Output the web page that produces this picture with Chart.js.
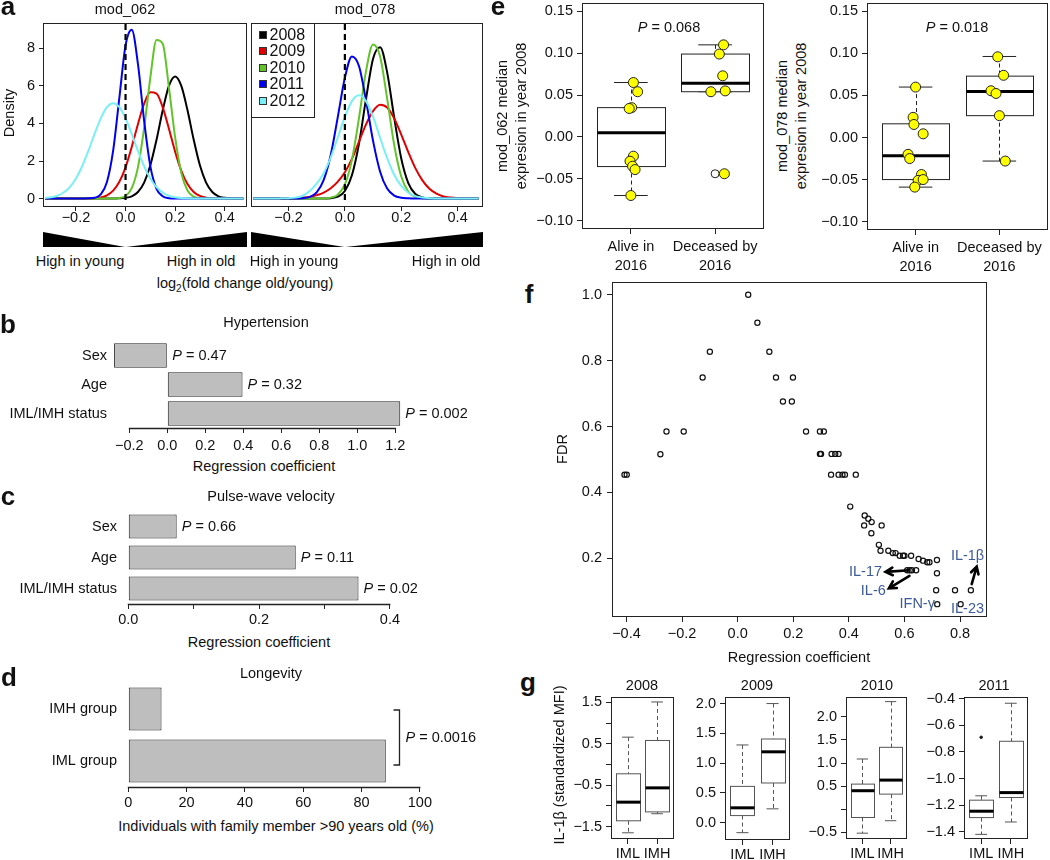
<!DOCTYPE html>
<html>
<head>
<meta charset="utf-8">
<script src="https://cdn.jsdelivr.net/npm/chart.js@4.4.1/dist/chart.umd.min.js"></script>
<style>
  body { margin: 0; background: #fff; }
  #fig { position: relative; width: 1050px; height: 860px; overflow: hidden;
         font-family: "Liberation Sans", Arial, Helvetica, sans-serif; color: #111; }
  #fig canvas { position: absolute; }
  .t { position: absolute; white-space: nowrap; line-height: 1; }
  .wedge { position: absolute; background: #000; }
</style>
</head>
<body>
<div id="fig"></div>
<script>
// ---------- panel a: density of log2 fold change (old / young) ----------
const densX = [-0.325, -0.3, -0.275, -0.25, -0.225, -0.2, -0.175, -0.15, -0.125, -0.1, -0.075, -0.05, -0.025,
  0, 0.025, 0.05, 0.075, 0.1, 0.125, 0.15, 0.175, 0.2, 0.225, 0.25, 0.275, 0.3, 0.325, 0.35, 0.375, 0.4, 0.425, 0.45, 0.475];
const years = ['2008', '2009', '2010', '2011', '2012'];
const yearColors = ['#000000', '#e00000', '#62c42a', '#0000ee', '#78f0f5'];

const mod062_2008 = [0,0,0,0,0,0,0,0,0,0,0,0,0.01,0.04,0.12,0.35,0.85,1.77,3.13,4.70,6.00,6.50,6.00,4.70,3.13,1.77,0.85,0.35,0.12,0.04,0.01,0,0];
const mod062_2009 = [0,0,0,0,0,0,0,0,0.02,0.06,0.17,0.42,0.89,1.66,2.75,3.96,5.05,5.66,5.59,4.86,3.72,2.50,1.48,0.77,0.35,0.14,0.05,0.01,0,0,0,0,0];
const mod062_2010 = [0,0,0,0,0,0,0,0,0,0,0,0,0.03,0.14,0.55,1.66,3.76,6.44,8.45,8.25,5.92,3.27,1.36,0.43,0.10,0.02,0,0,0,0,0,0,0];
const mod062_2011 = [0,0,0,0,0,0,0,0.01,0.04,0.22,0.88,2.55,5.36,8.16,8.99,7.17,4.14,1.73,0.52,0.12,0.02,0,0,0,0,0,0,0,0,0,0,0,0];
const mod062_2012 = [0.03,0.07,0.15,0.32,0.61,1.07,1.72,2.54,3.44,4.27,4.87,5.08,4.87,4.27,3.44,2.54,1.72,1.07,0.61,0.32,0.15,0.07,0.03,0.01,0,0,0,0,0,0,0,0,0];

const mod078_2008 = [0,0,0,0,0,0,0,0,0,0,0,0.02,0.10,0.40,1.24,2.92,5.31,7.45,8.06,6.72,4.31,2.13,0.82,0.24,0.06,0.01,0,0,0,0,0,0,0];
const mod078_2009 = [0,0,0,0,0,0.01,0.02,0.05,0.08,0.18,0.32,0.55,0.90,1.40,2.11,3.03,3.95,4.66,5.00,4.85,4.27,3.41,2.47,1.62,0.97,0.52,0.26,0.11,0.05,0.02,0.01,0,0];
const mod078_2010 = [0,0,0,0,0,0,0,0,0,0,0,0.05,0.21,0.75,2.06,4.28,6.79,8.21,7.57,5.32,2.85,1.17,0.36,0.09,0.02,0,0,0,0,0,0,0,0];
const mod078_2011 = [0,0,0,0,0,0,0,0.02,0.09,0.33,0.99,2.33,4.35,6.43,7.57,7.06,5.23,3.07,1.43,0.53,0.16,0.04,0.01,0,0,0,0,0,0,0,0,0,0];
const mod078_2012 = [0,0,0,0,0.01,0.02,0.05,0.15,0.40,0.80,1.35,2.20,3.25,4.35,5.19,5.50,5.19,4.35,3.24,2.15,1.27,0.67,0.31,0.13,0.05,0.02,0,0,0,0,0,0,0];

const densXTicks = [-0.2, 0, 0.2, 0.4];
const densYTicks = [0, 2, 4, 6, 8];

// ---------- panels b, c, d: bar charts ----------
const hypCats = ['Sex', 'Age', 'IML/IMH status'];
const hypCoef = [-0.28, 0.396, 1.226];
const hypP = ['0.47', '0.32', '0.002'];
const hypTicks = [-0.2, 0, 0.2, 0.4, 0.6, 0.8, 1.0, 1.2];

const pwvCats = ['Sex', 'Age', 'IML/IMH status'];
const pwvCoef = [0.074, 0.256, 0.352];
const pwvP = ['0.66', '0.11', '0.02'];
const pwvTicks = [0, 0.1, 0.2, 0.3, 0.4];
const pwvLabeled = [0, 0.2, 0.4];

const longCats = ['IMH group', 'IML group'];
const longPct = [11.4, 88.3];
const longP = '0.0016';
const longTicks = [0, 20, 40, 60, 80, 100];

// ---------- panel e: module expression in 2008 by survival ----------
const eCats = [['Alive in', '2016'], ['Deceased by', '2016']];
const eTicks = [-0.1, -0.05, 0, 0.05, 0.1, 0.15];
const e062AliveX = [1.03, 1.08, 1.01, 0.98, 1.03, 0.99, 1.02, 1.05, 1.00];
const e062AliveY = [0.065, 0.054, 0.035, 0.034, -0.023, -0.029, -0.035, -0.039, -0.070];
const e062DeadX = [2.10, 2.05, 2.09, 1.95, 2.12, 2.11];
const e062DeadY = [0.110, 0.099, 0.073, 0.054, 0.055, -0.044];
const e062AliveBox = [-0.070, -0.0354, 0.005, 0.035, 0.065];
const e062DeadBox = [0.054, 0.054, 0.064, 0.099, 0.110];
const e062OutX = [2];
const e062OutY = [-0.044];

const e078AliveX = [1.00, 0.97, 0.98, 1.09, 0.91, 0.93, 1.07, 1.03, 1.09, 0.99];
const e078AliveY = [0.060, 0.024, 0.0155, 0.0044, -0.020, -0.025, -0.044, -0.051, -0.050, -0.059];
const e078DeadX = [1.98, 2.05, 1.90, 1.96, 2.00, 2.07];
const e078DeadY = [0.096, 0.074, 0.0556, 0.0524, 0.026, -0.028];
const e078AliveBox = [-0.059, -0.050, -0.0218, 0.0163, 0.060];
const e078DeadBox = [-0.028, 0.026, 0.0548, 0.073, 0.0964];

// ---------- panel f: regression coefficient vs FDR ----------
const fX = [-0.407,-0.399,-0.278,-0.256,-0.194,-0.126,-0.100,0.038,0.071,0.114,0.138,0.199,0.163,0.195,0.246,0.296,0.310,
  0.296,0.300,0.338,0.351,0.363,0.336,0.363,0.377,0.386,0.425,0.405,0.457,0.470,0.482,0.455,0.518,0.481,0.508,0.514,
  0.542,0.558,0.568,0.583,0.595,0.600,0.624,0.651,0.667,0.682,0.690,0.717,0.717,0.610,0.619,0.627,0.642,0.714,0.782,0.839,0.718,0.802];
const fY = [0.454,0.454,0.516,0.585,0.585,0.749,0.827,1.000,0.915,0.827,0.749,0.749,0.676,0.676,0.585,0.585,0.585,
  0.517,0.517,0.517,0.517,0.517,0.454,0.454,0.454,0.454,0.454,0.357,0.330,0.320,0.310,0.300,0.300,0.276,0.241,0.223,
  0.223,0.216,0.216,0.208,0.208,0.208,0.208,0.198,0.193,0.188,0.188,0.195,0.155,0.164,0.164,0.164,0.164,0.103,0.103,0.103,0.061,0.061];
const fXTicks = [-0.4, -0.2, 0, 0.2, 0.4, 0.6, 0.8];
const fYTicks = [0.2, 0.4, 0.6, 0.8, 1.0];
const fNotes = ['IL-1\u03b2', 'IL-17', 'IL-6', 'IFN-\u03b3', 'IL-23'];
const fNoteX = [0.827, 0.460, 0.488, 0.646, 0.827];
const fNoteY = [0.207, 0.159, 0.102, 0.061, 0.047];
const fArrowX0 = [0.618, 0.618, 0.842];
const fArrowY0 = [0.164, 0.147, 0.122];
const fArrowX1 = [0.532, 0.544, 0.860];
const fArrowY1 = [0.159, 0.109, 0.175];

// ---------- panel g: IL-1b by group and year ----------
const gCats = ['IML', 'IMH'];
const g2008IML = [-1.65, -1.36, -0.91, -0.225, 0.66];
const g2008IMH = [-1.19, -1.145, -0.565, 0.58, 1.51];
const g2009IML = [-0.167, 0.12, 0.25, 0.61, 1.305];
const g2009IMH = [0.233, 0.667, 1.19, 1.405, 2.0];
const g2010IML = [-0.52, -0.18, 0.40, 0.543, 1.087];
const g2010IMH = [-0.25, 0.326, 0.63, 1.34, 2.33];
const g2011IML = [-1.42, -1.294, -1.246, -1.163, -1.13];
const g2011IMH = [-1.327, -1.143, -1.106, -0.72, -0.434];
const g2011OutX = [1];
const g2011OutY = [-0.69];

// ---------- helpers ----------
const FONT = '"Liberation Sans", Arial, Helvetica, sans-serif';
const FS = 14.5;
Chart.defaults.font.family = FONT;
Chart.defaults.font.size = FS;
Chart.defaults.color = '#111';
Chart.defaults.animation = false;
Chart.defaults.responsive = false;
Chart.defaults.plugins.legend.display = false;
Chart.defaults.plugins.tooltip.enabled = false;

const fig = document.getElementById('fig');
const fmt = (v, d) => (v < -1e-9 ? '\u2212' : '') + Math.abs(v).toFixed(d);

function T(html, x, y, o) {
  o = o || {};
  const d = document.createElement('div');
  d.className = 't';
  d.innerHTML = html;
  const tx = o.left ? '0' : '-50%';
  d.style.left = x + 'px';
  d.style.top = y + 'px';
  d.style.fontSize = (o.size || FS) + 'px';
  if (o.bold) d.style.fontWeight = 'bold';
  if (o.lh) { d.style.lineHeight = o.lh + 'px'; d.style.textAlign = 'center'; }
  d.style.transform = 'translate(' + tx + ',-50%)' + (o.rot ? ' rotate(-90deg)' : '');
  fig.appendChild(d);
}

function linAxis(min, max, ticks, cb, pad, tl) {
  return {
    type: 'linear', min: min, max: max,
    afterBuildTicks: ax => { ax.ticks = ticks.map(v => ({ value: v })); },
    ticks: { callback: cb, padding: pad, autoSkip: false, maxRotation: 0, font: { size: FS, lineHeight: 1 } },
    grid: { display: true, drawOnChartArea: false, drawTicks: true, tickLength: tl || 5, color: '#222', lineWidth: 1 },
    border: { display: false }
  };
}
function blankAxis(min, max) {
  return { type: 'linear', min: min, max: max, ticks: { display: false },
           grid: { display: false, drawTicks: false }, border: { display: false } };
}
function catAxis() {
  return { type: 'category', ticks: { padding: 5, font: { size: FS, lineHeight: 1 } },
           grid: { display: false, drawTicks: false }, border: { display: false } };
}

function mk(box, pad, cfg) {
  const w = box.r - box.l + pad.l + pad.r, h = box.b - box.t + pad.t + pad.b;
  const c = document.createElement('canvas');
  c.width = w; c.height = h;
  c.style.left = (box.l - pad.l) + 'px';
  c.style.top = (box.t - pad.t) + 'px';
  c.style.width = w + 'px';
  c.style.height = h + 'px';
  fig.appendChild(c);
  const o = cfg.options;
  o.layout = { padding: { top: pad.t, right: pad.r, left: 0, bottom: 0 }, autoPadding: false };
  o.scales.x.position = 'bottom';
  o.scales.y.position = 'left';
  o.scales.x.afterFit = s => { s.height = pad.b; };
  o.scales.y.afterFit = s => { s.width = pad.l; };
  return new Chart(c, cfg);
}

function drawP(ctx, val, x, y) {
  ctx.save();
  ctx.textBaseline = 'middle';
  ctx.textAlign = 'left';
  ctx.fillStyle = '#111';
  ctx.font = 'italic ' + FS + 'px ' + FONT;
  ctx.fillText('P', x, y);
  const w = ctx.measureText('P').width;
  ctx.font = FS + 'px ' + FONT;
  ctx.fillText(' = ' + val, x + w, y);
  ctx.restore();
}

// ---------- plugins ----------
const frame = {
  id: 'frame',
  afterDraw(chart, args, opts) {
    if (!opts.on) return;
    const a = chart.chartArea, ctx = chart.ctx;
    ctx.save();
    ctx.strokeStyle = '#222';
    ctx.lineWidth = 1;
    ctx.strokeRect(Math.round(a.left) + 0.5, Math.round(a.top) + 0.5,
                   Math.round(a.right - a.left) - 1, Math.round(a.bottom - a.top) - 1);
    ctx.restore();
  }
};

const rAxis = {
  id: 'rAxis',
  afterDraw(chart, args, opts) {
    if (!opts.on) return;
    const s = chart.scales.x, ctx = chart.ctx, t = s.ticks;
    const x0 = s.getPixelForValue(t[0].value), x1 = s.getPixelForValue(t[t.length - 1].value);
    ctx.save();
    ctx.strokeStyle = '#222';
    ctx.lineWidth = 1.3;
    ctx.beginPath();
    ctx.moveTo(x0 - 0.5, Math.round(s.top) + 0.5);
    ctx.lineTo(x1 + 0.5, Math.round(s.top) + 0.5);
    ctx.stroke();
    ctx.restore();
  }
};

const pLabels = {
  id: 'pLabels',
  afterDatasetsDraw(chart, args, opts) {
    if (!opts.vals) return;
    const meta = chart.getDatasetMeta(0), xs = chart.scales.x;
    const data = chart.data.datasets[0].data;
    meta.data.forEach((bar, i) => {
      drawP(chart.ctx, opts.vals[i], xs.getPixelForValue(Math.max(data[i], 0)) + 5, bar.y);
    });
  }
};

const bracket = {
  id: 'bracket',
  afterDatasetsDraw(chart, args, opts) {
    if (!opts.text) return;
    const ctx = chart.ctx, meta = chart.getDatasetMeta(0), xs = chart.scales.x;
    const data = chart.data.datasets[0].data;
    const x = Math.round(xs.getPixelForValue(Math.max.apply(null, data)) + 13) + 0.5;
    const y0 = meta.data[0].y + 1, y1 = meta.data[1].y + 4;
    ctx.save();
    ctx.strokeStyle = '#222';
    ctx.lineWidth = 1.3;
    ctx.beginPath();
    ctx.moveTo(x - 6, y0); ctx.lineTo(x, y0); ctx.lineTo(x, y1); ctx.lineTo(x - 6, y1);
    ctx.stroke();
    ctx.restore();
    drawP(ctx, opts.text, x + 6, (y0 + y1) / 2);
  }
};

const boxPlot = {
  id: 'boxPlot',
  beforeDatasetsDraw(chart, args, opts) {
    if (!opts.list) return;
    const ctx = chart.ctx, xs = chart.scales.x, ys = chart.scales.y;
    const X = v => xs.getPixelForValue(v), Y = v => ys.getPixelForValue(v);
    const seg = (x0, y0, x1, y1) => { ctx.beginPath(); ctx.moveTo(x0, y0); ctx.lineTo(x1, y1); ctx.stroke(); };
    ctx.save();
    opts.list.forEach(b => {
      const lo = b.s[0], q1 = b.s[1], md = b.s[2], q3 = b.s[3], hi = b.s[4];
      const xc = Math.round(X(b.x)) + 0.5;
      const x0 = Math.round(X(b.x - 0.4)) + 0.5, x1 = Math.round(X(b.x + 0.4)) + 0.5;
      ctx.strokeStyle = opts.color;
      ctx.lineWidth = 1;
      ctx.setLineDash([4, 3]);
      seg(xc, Y(hi), xc, Y(q3));
      seg(xc, Y(q1), xc, Y(lo));
      ctx.setLineDash([]);
      seg(X(b.x - 0.2), Y(hi), X(b.x + 0.2), Y(hi));
      seg(X(b.x - 0.2), Y(lo), X(b.x + 0.2), Y(lo));
      ctx.fillStyle = '#fff';
      ctx.fillRect(x0, Y(q3), x1 - x0, Y(q1) - Y(q3));
      ctx.strokeRect(x0, Y(q3), x1 - x0, Y(q1) - Y(q3));
      ctx.strokeStyle = '#000';
      ctx.lineWidth = 3;
      seg(x0, Y(md), x1, Y(md));
    });
    ctx.restore();
  }
};

const yearLegend = {
  id: 'yearLegend',
  afterDatasetsDraw(chart, args, opts) {
    if (!opts.on) return;
    const ctx = chart.ctx, a = chart.chartArea;
    const L = Math.round(a.left) + 0.5, Tp = Math.round(a.top) + 0.5;
    ctx.save();
    ctx.fillStyle = '#fff';
    ctx.fillRect(L, Tp, 63, 94);
    ctx.strokeStyle = '#222';
    ctx.lineWidth = 1;
    ctx.strokeRect(L, Tp, 63, 94);
    ctx.font = '16px ' + FONT;
    ctx.textBaseline = 'middle';
    years.forEach((y, i) => {
      const cy = Math.round(Tp + 11 + i * 16.5);
      ctx.fillStyle = yearColors[i];
      ctx.fillRect(L + 8, cy - 3.5, 7, 7);
      ctx.strokeStyle = '#333';
      ctx.strokeRect(L + 8, cy - 3.5, 7, 7);
      ctx.fillStyle = '#111';
      ctx.fillText(y, L + 18, cy + 0.5);
    });
    ctx.restore();
  }
};

const notes = {
  id: 'notes',
  afterDatasetsDraw(chart, args, opts) {
    if (!opts.on) return;
    const ctx = chart.ctx, xs = chart.scales.x, ys = chart.scales.y;
    ctx.save();
    ctx.font = FS + 'px ' + FONT;
    ctx.fillStyle = '#3d5a9a';
    ctx.textAlign = 'center';
    ctx.textBaseline = 'middle';
    fNotes.forEach((n, i) => ctx.fillText(n, xs.getPixelForValue(fNoteX[i]), ys.getPixelForValue(fNoteY[i])));
    ctx.strokeStyle = '#000';
    ctx.lineWidth = 2.6;
    ctx.lineCap = 'round';
    fArrowX0.forEach((v, i) => {
      const x0 = xs.getPixelForValue(v), y0 = ys.getPixelForValue(fArrowY0[i]);
      const x1 = xs.getPixelForValue(fArrowX1[i]), y1 = ys.getPixelForValue(fArrowY1[i]);
      const ang = Math.atan2(y1 - y0, x1 - x0), h = 8;
      ctx.beginPath();
      ctx.moveTo(x0, y0); ctx.lineTo(x1, y1);
      ctx.moveTo(x1 - h * Math.cos(ang - 0.5), y1 - h * Math.sin(ang - 0.5));
      ctx.lineTo(x1, y1);
      ctx.lineTo(x1 - h * Math.cos(ang + 0.5), y1 - h * Math.sin(ang + 0.5));
      ctx.stroke();
    });
    ctx.restore();
  }
};

Chart.register(frame, rAxis, pLabels, bracket, boxPlot, yearLegend, notes);

// ---------- panel a ----------
function densityChart(box, pad, curves, showY, legend) {
  const ds = curves.map((ys, i) => ({
    data: densX.map((x, k) => ({ x: x, y: ys[k] })),
    borderColor: yearColors[i], borderWidth: 2, pointRadius: 0,
    cubicInterpolationMode: 'monotone', fill: false, order: 5 - i
  }));
  ds.push({ data: [{ x: 0, y: -0.08 }, { x: 0, y: 9.4 }], borderColor: '#000', borderWidth: 2.2,
            borderDash: [6, 4], pointRadius: 0, order: 0 });
  return mk(box, pad, {
    type: 'line',
    data: { datasets: ds },
    options: {
      scales: {
        x: linAxis(-0.333, 0.49, densXTicks, v => fmt(v, 1), 0, 4),
        y: showY ? linAxis(-0.45, 9.35, densYTicks, v => fmt(v, 0), 4, 4) : blankAxis(-0.45, 9.35)
      },
      plugins: { frame: { on: true }, yearLegend: { on: legend } }
    }
  });
}
function wedges(chart) {
  const a = chart.chartArea, x0 = chart.scales.x.getPixelForValue(0);
  const L = parseFloat(chart.canvas.style.left), Tp = parseFloat(chart.canvas.style.top);
  const top = Tp + a.bottom + 25;
  const w1 = document.createElement('div');
  w1.className = 'wedge';
  w1.style.cssText += 'left:' + (L + a.left) + 'px;top:' + top + 'px;width:' + (x0 - a.left - 0.5) +
    'px;height:15px;clip-path:polygon(0 0,100% 100%,0 100%)';
  const w2 = document.createElement('div');
  w2.className = 'wedge';
  w2.style.cssText += 'left:' + (L + x0 + 0.5) + 'px;top:' + top + 'px;width:' + (a.right - x0 - 0.5) +
    'px;height:15px;clip-path:polygon(0 100%,100% 0,100% 100%)';
  fig.appendChild(w1);
  fig.appendChild(w2);
}
const a1 = densityChart({ l: 43, t: 23, r: 247, b: 207 }, { l: 43, t: 12, r: 2, b: 22 },
  [mod062_2008, mod062_2009, mod062_2010, mod062_2011, mod062_2012], true, false);
const a2 = densityChart({ l: 251, t: 23, r: 483, b: 207 }, { l: 4, t: 12, r: 5, b: 22 },
  [mod078_2008, mod078_2009, mod078_2010, mod078_2011, mod078_2012], false, true);
wedges(a1);
wedges(a2);

// ---------- panels b, c, d ----------
function barDS(vals, pct) {
  return { data: vals, backgroundColor: '#bebebe', borderColor: '#222', borderWidth: 1,
           borderSkipped: false, barPercentage: pct, categoryPercentage: 1 };
}
mk({ l: 112, t: 341, r: 420, b: 428 }, { l: 112, t: 14, r: 65, b: 28 }, {
  type: 'bar',
  data: { labels: hypCats, datasets: [barDS(hypCoef, 0.84)] },
  options: {
    indexAxis: 'y',
    scales: { x: linAxis(-0.291, 1.33, hypTicks, v => fmt(v, 1), 6), y: catAxis() },
    plugins: { rAxis: { on: true }, pLabels: { vals: hypP } }
  }
});
mk({ l: 122, t: 511, r: 420, b: 604 }, { l: 122, t: 14, r: 65, b: 28 }, {
  type: 'bar',
  data: { labels: pwvCats, datasets: [barDS(pwvCoef, 0.78)] },
  options: {
    indexAxis: 'y',
    scales: { x: linAxis(-0.0096, 0.446, pwvTicks, v => pwvLabeled.indexOf(v) >= 0 ? fmt(v, 1) : '', 4), y: catAxis() },
    plugins: { rAxis: { on: true }, pLabels: { vals: pwvP } }
  }
});
mk({ l: 122, t: 683, r: 440, b: 787 }, { l: 122, t: 14, r: 60, b: 28 }, {
  type: 'bar',
  data: { labels: longCats, datasets: [barDS(longPct, 0.83)] },
  options: {
    indexAxis: 'y',
    scales: { x: linAxis(-2.16, 106.9, longTicks, v => fmt(v, 0), 4), y: catAxis() },
    plugins: { rAxis: { on: true }, bracket: { text: longP } }
  }
});

// ---------- panel e ----------
function pts(xs, ys) {
  return { data: xs.map((x, i) => ({ x: x, y: ys[i] })), pointRadius: 5, pointBackgroundColor: '#ffff00',
           pointBorderColor: '#222', pointBorderWidth: 1 };
}
function outl(xs, ys, r, fillc) {
  return { data: xs.map((x, i) => ({ x: x, y: ys[i] })), pointRadius: r, pointBackgroundColor: fillc,
           pointBorderColor: '#222', pointBorderWidth: 1 };
}
function ePanel(box, ds, boxes) {
  const x = linAxis(0.42, 2.58, [1, 2], v => eCats[Math.round(v) - 1], 4);
  x.ticks.font.lineHeight = 1.29;
  return mk(box, { l: 50, t: 12, r: 2, b: 50 }, {
    type: 'scatter',
    data: { datasets: ds },
    options: {
      scales: { x: x, y: linAxis(-0.11, 0.16, eTicks, v => fmt(v, 2), 4) },
      plugins: { frame: { on: true }, boxPlot: { list: boxes, color: '#222' } }
    }
  });
}
ePanel({ l: 582, t: 3, r: 764, b: 229 },
  [pts(e062AliveX, e062AliveY), pts(e062DeadX, e062DeadY), outl(e062OutX, e062OutY, 4, 'rgba(0,0,0,0)')],
  [{ x: 1, s: e062AliveBox }, { x: 2, s: e062DeadBox }]);
ePanel({ l: 867, t: 3, r: 1048, b: 230 },
  [pts(e078AliveX, e078AliveY), pts(e078DeadX, e078DeadY)],
  [{ x: 1, s: e078AliveBox }, { x: 2, s: e078DeadBox }]);

// ---------- panel f ----------
mk({ l: 612, t: 282, r: 987, b: 617 }, { l: 50, t: 12, r: 10, b: 28 }, {
  type: 'scatter',
  data: { datasets: [{ data: fX.map((x, i) => ({ x: x, y: fY[i] })), pointRadius: 2.6,
                       pointBackgroundColor: 'rgba(0,0,0,0)', pointBorderColor: '#111', pointBorderWidth: 1.2 }] },
  options: {
    scales: {
      x: linAxis(-0.452, 0.897, fXTicks, v => fmt(v, 1), 5),
      y: linAxis(0.022, 1.038, fYTicks, v => fmt(v, 1), 5)
    },
    plugins: { frame: { on: true }, notes: { on: true } }
  }
});

// ---------- panel g ----------
function gPanel(box, yMin, yMax, ticks, labeled, iml, imh, extra) {
  return mk(box, { l: 48, t: 12, r: 3, b: 21 }, {
    type: 'scatter',
    data: { datasets: extra ? [extra] : [] },
    options: {
      scales: {
        x: linAxis(0.42, 2.58, [1, 2], v => gCats[Math.round(v) - 1], 3),
        y: linAxis(yMin, yMax, ticks, v => labeled.some(u => Math.abs(u - v) < 1e-9) ? fmt(v, 1) : '', 4)
      },
      plugins: { frame: { on: true }, boxPlot: { list: [{ x: 1, s: iml }, { x: 2, s: imh }], color: '#555' } }
    }
  });
}
gPanel({ l: 611, t: 697, r: 674, b: 839 }, -1.80, 1.63, [-1.5, -1, -0.5, 0, 0.5, 1, 1.5], [-1.5, -0.5, 0.5, 1.5], g2008IML, g2008IMH);
gPanel({ l: 725, t: 697, r: 790, b: 840 }, -0.29, 2.11, [0, 0.5, 1, 1.5, 2], [0, 0.5, 1, 1.5, 2], g2009IML, g2009IMH);
gPanel({ l: 846, t: 697, r: 907, b: 839 }, -0.646, 2.43, [-0.5, 0, 0.5, 1, 1.5, 2], [-0.5, 0.5, 1, 1.5, 2], g2010IML, g2010IMH);
gPanel({ l: 964, t: 697, r: 1028, b: 839 }, -1.455, -0.387, [-1.4, -1.2, -1.0, -0.8, -0.6, -0.4], [-1.4, -1.2, -1.0, -0.8, -0.6, -0.4],
  g2011IML, g2011IMH, outl(g2011OutX, g2011OutY, 1.3, '#111'));

// ---------- text ----------
T('a', 8, 6, { size: 26, bold: true });
T('b', 8, 324, { size: 26, bold: true });
T('c', 8, 496, { size: 26, bold: true });
T('d', 9, 677, { size: 26, bold: true });
T('e', 498, 6, { size: 26, bold: true });
T('f', 529, 294, { size: 26, bold: true });
T('g', 528, 682, { size: 26, bold: true });

T('mod_062', 125, 9);
T('mod_078', 365, 9);
T('Density', 9, 113, { rot: true });
T('High in young', 80, 261);
T('High in old', 201, 261);
T('High in young', 294, 261);
T('High in old', 446, 261);
T('log<sub style="font-size:10px">2</sub>(fold change old/young)', 245, 285);

T('Hypertension', 266, 322);
T('Regression coefficient', 264, 466);
T('Pulse-wave velocity', 271, 496);
T('Regression coefficient', 259, 642);
T('Longevity', 271, 673);
T('Individuals with family member &gt;90 years old (%)', 276, 826);

T('<i>P</i> = 0.068', 669, 27);
T('<i>P</i> = 0.018', 957, 27);
T('mod_062 median<br>expresion in year 2008', 512, 116, { rot: true, lh: 19 });
T('mod_078 median<br>expresion in year 2008', 792, 116, { rot: true, lh: 19 });

T('FDR', 562, 449, { rot: true });
T('Regression coefficient', 799, 657);

T('2008', 642, 685);
T('2009', 757, 685);
T('2010', 877, 685);
T('2011', 994, 685);
T('IL-1\u03b2 (standardized MFI)', 559, 765, { rot: true });
</script>
</body>
</html>
